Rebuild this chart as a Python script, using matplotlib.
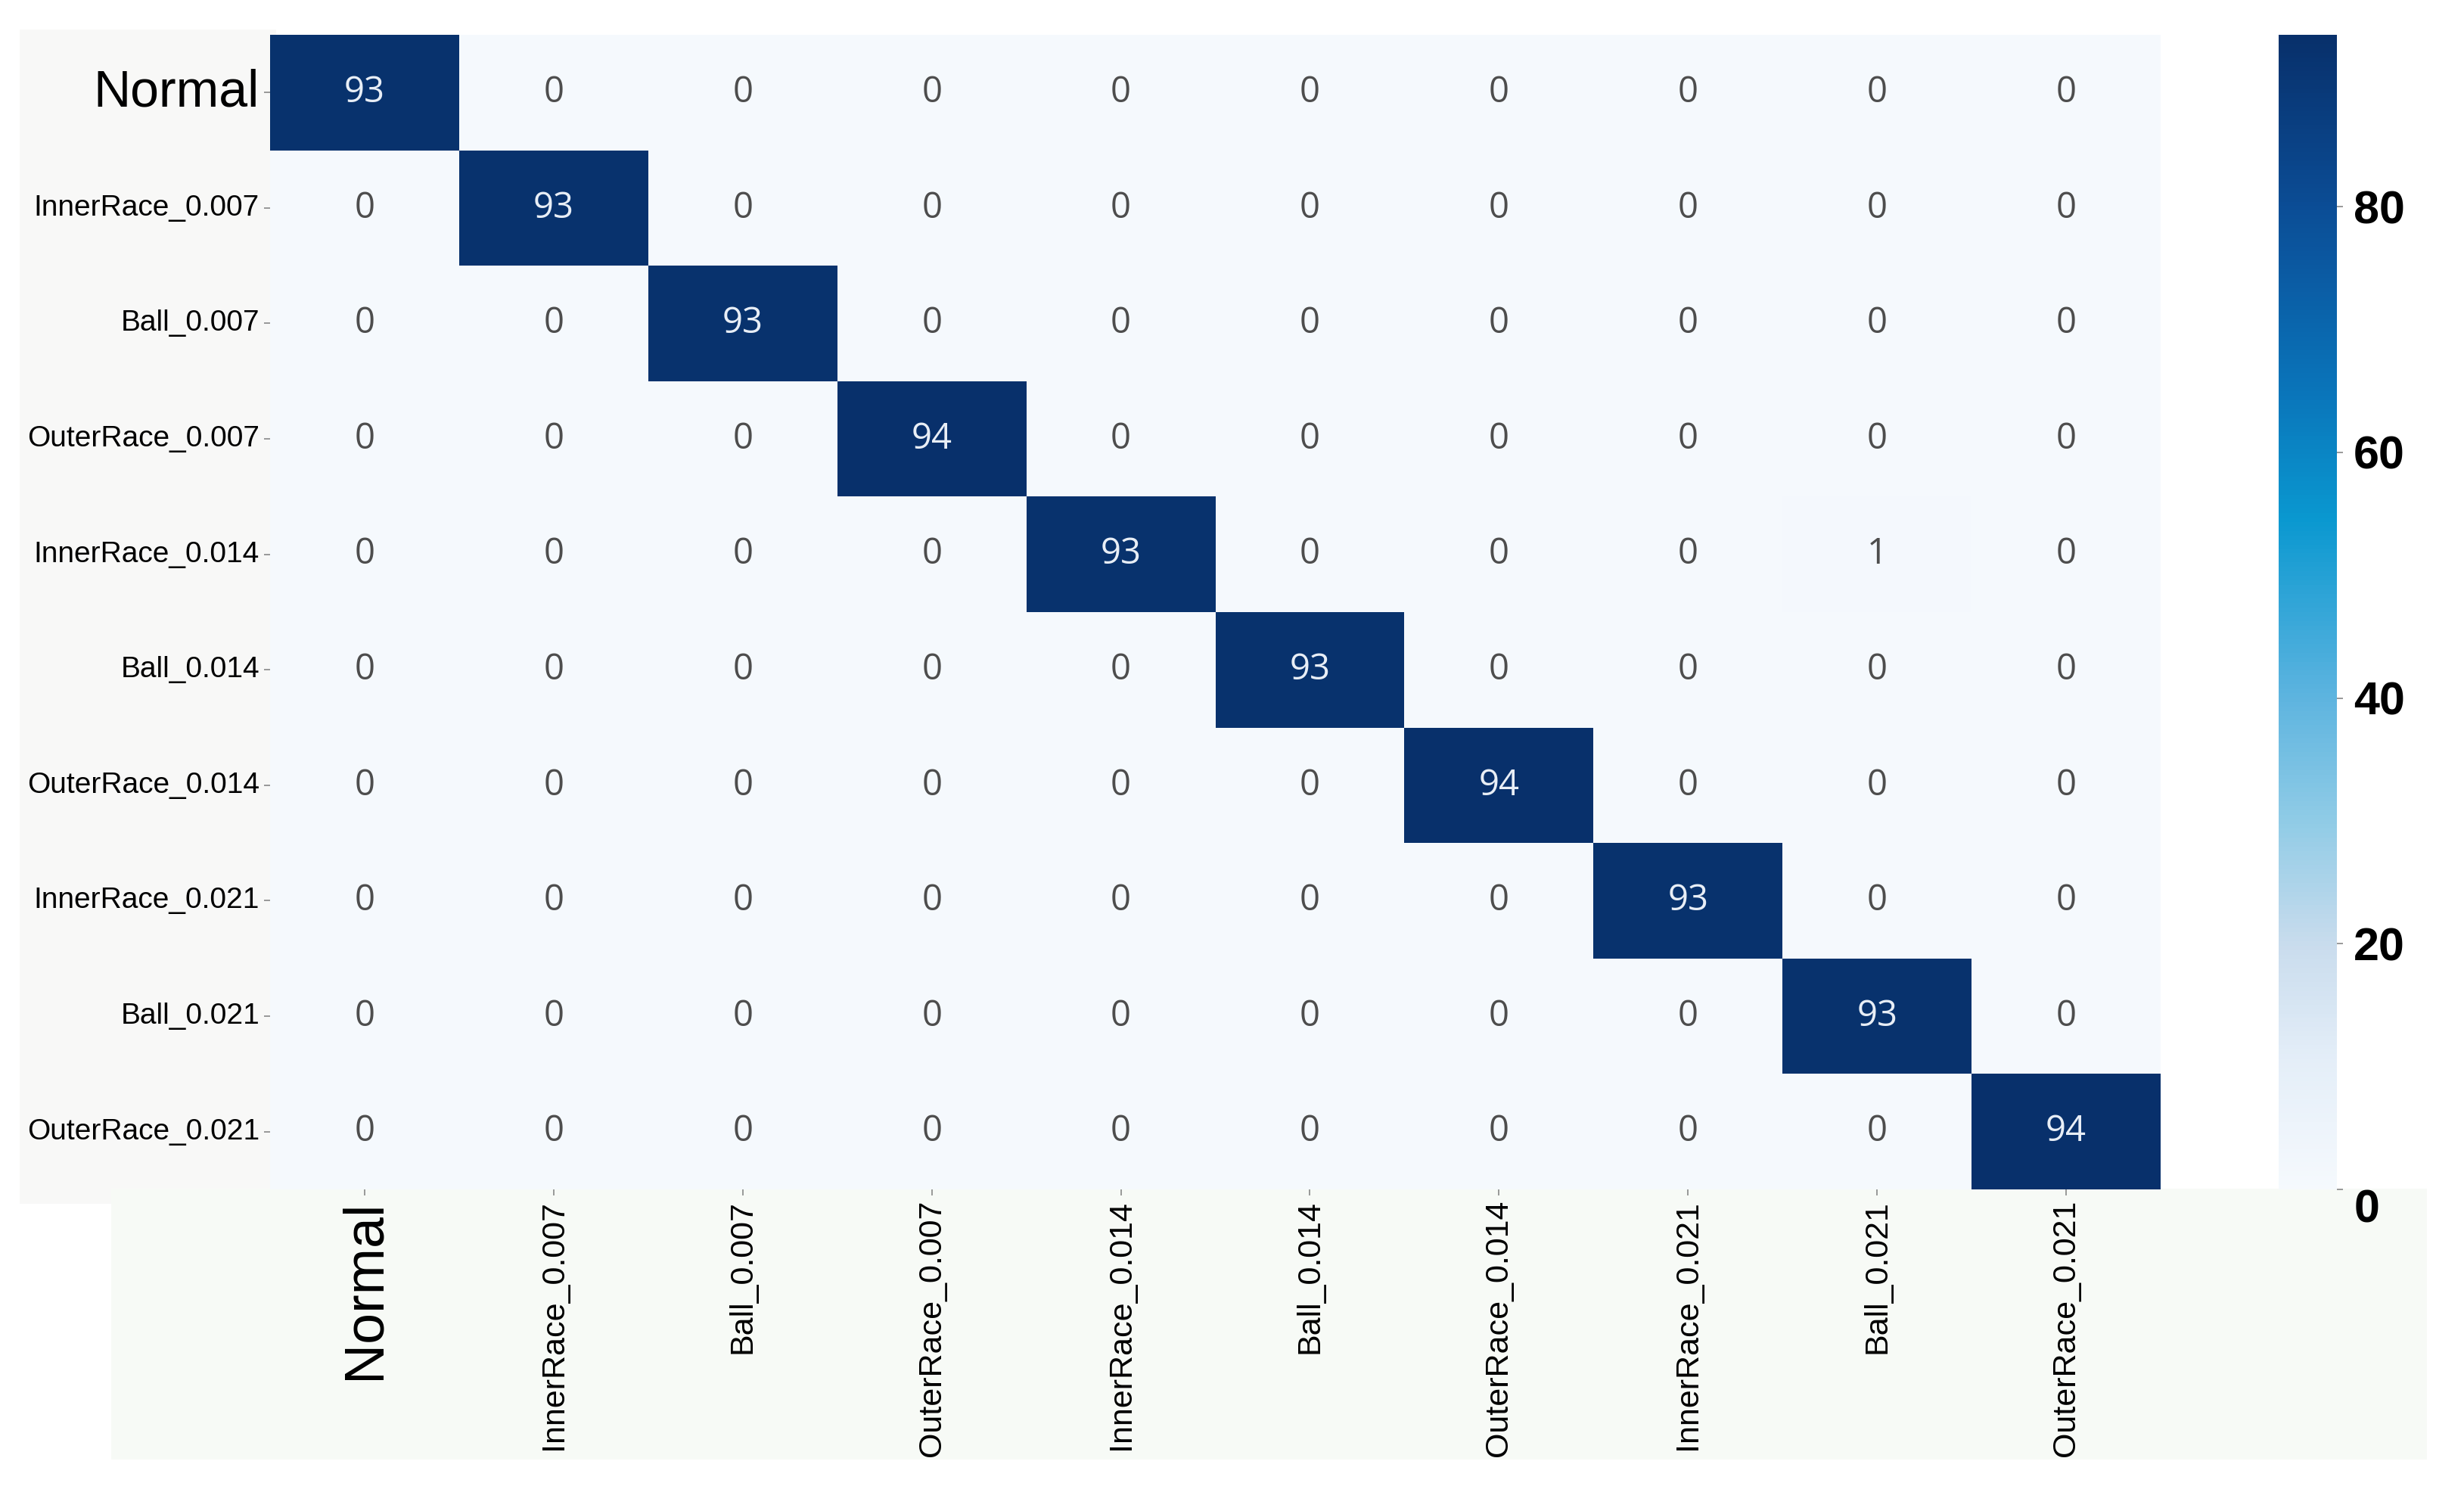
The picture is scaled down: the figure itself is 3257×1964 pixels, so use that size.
import matplotlib
matplotlib.use('Agg')
import matplotlib.pyplot as plt
import matplotlib.patches as patches
from matplotlib.colors import LinearSegmentedColormap
import numpy as np
import seaborn as sns

# class names (rows = true, cols = predicted)
labels = ['Normal', 'InnerRace_0.007', 'Ball_0.007', 'OuterRace_0.007',
          'InnerRace_0.014', 'Ball_0.014', 'OuterRace_0.014',
          'InnerRace_0.021', 'Ball_0.021', 'OuterRace_0.021']

diag_counts = [93, 93, 93, 94, 93, 93, 94, 93, 93, 94]
# off-diagonal errors: (row, col, count)
off_diag = [(4, 8, 1)]

cbar_ticks = [0, 20, 40, 60, 80]

cm = np.diag(diag_counts)
for r, c, v in off_diag:
    cm[r, c] = v

# blues as it looks in the screenshot (a bit more cyan in the middle)
cmap = LinearSegmentedColormap.from_list('shot_blues', [
    (0.00, '#f5f9fd'), (0.11, '#e4eef8'), (0.21, '#c9dced'), (0.32, '#8fcbe6'),
    (0.43, '#5bb3df'), (0.58, '#0a98d0'), (0.70, '#0a72b8'), (0.85, '#0b4d96'),
    (1.00, '#08306b')])

fig = plt.figure(figsize=(32.57, 19.64), dpi=100)
fig.patch.set_facecolor('white')

# faint grey/green backdrop around the matrix like the screenshot
bg = fig.add_axes([0, 0, 1, 1], zorder=-10)
bg.set_xlim(0, 1)
bg.set_ylim(0, 1)
bg.axis('off')
bg.add_patch(patches.Rectangle((0.008, 0.19), 0.104, 0.79, facecolor='#f8f8f7', edgecolor='none'))
bg.add_patch(patches.Rectangle((0.045, 0.018), 0.94, 0.182, facecolor='#f7faf6', edgecolor='none'))

ax = fig.add_axes([0.1096, 0.1996, 0.7673, 0.777])
cax = fig.add_axes([0.9248, 0.1996, 0.0236, 0.777])

sns.heatmap(cm, ax=ax, cbar_ax=cax, cmap=cmap, vmin=0, vmax=max(diag_counts),
            annot=False, square=False, xticklabels=labels, yticklabels=labels)

# cell annotations
for i in range(cm.shape[0]):
    for j in range(cm.shape[1]):
        v = cm[i, j]
        ax.text(j + 0.5, i + 0.5, str(v), ha='center', va='center',
                fontsize=34, family='Open Sans',
                color='#e8eef6' if v > 50 else '#4d4d4d')

ax.tick_params(axis='both', length=6, width=1.2, color='#888888', pad=4)
ax.set_xticklabels(labels, rotation=90, family='Liberation Sans', fontsize=31)
ax.set_yticklabels(labels, rotation=0, family='Liberation Sans', fontsize=28)
ax.get_xticklabels()[0].set_fontsize(53)
ax.get_yticklabels()[0].set_fontsize(49)

cax.set_yticks(cbar_ticks)
cax.tick_params(length=6, width=1.2, color='#888888', labelsize=44, pad=10)
for t in cax.get_yticklabels():
    t.set_family('Liberation Sans')
    t.set_fontweight('bold')
cax.get_yticklabels()[0].set_va('top')
cax.set_frame_on(False)

fig.savefig('out.png', dpi=100, facecolor='white')
